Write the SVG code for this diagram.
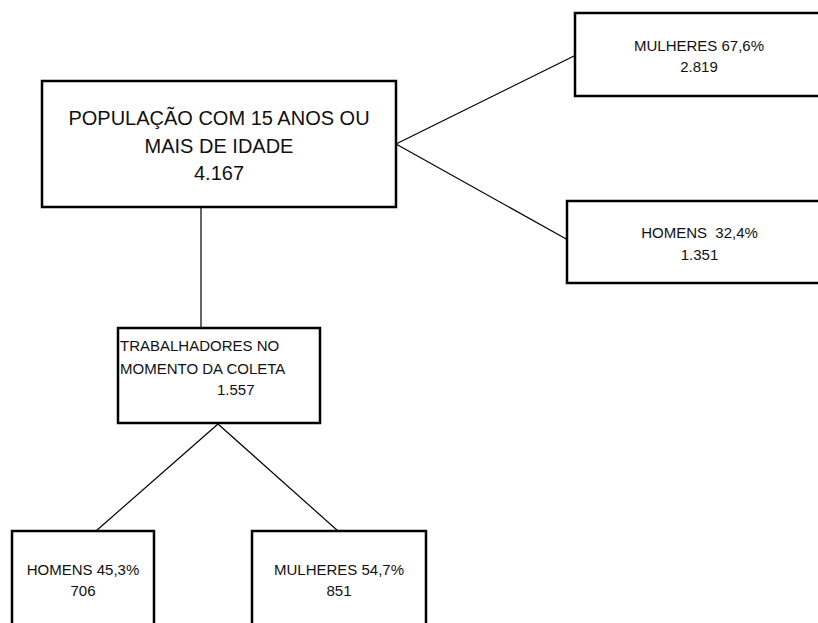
<svg xmlns="http://www.w3.org/2000/svg" width="818" height="623" viewBox="0 0 818 623">
<style>
.box{fill:#fff;stroke:#000;stroke-width:2.5}
.con{stroke:#000;stroke-width:1.2;fill:none}
.t{font-family:"Liberation Sans",Arial,sans-serif;fill:#111;font-size:15px}
.big{font-size:20px}
.c{text-anchor:middle}
</style>
<rect width="818" height="623" fill="#fff"/>
<g id="connectors">
<line class="con" x1="396" y1="144" x2="576" y2="55"/>
<line class="con" x1="396" y1="144" x2="568" y2="240"/>
<line class="con" x1="201" y1="207" x2="201" y2="328"/>
<line class="con" x1="218" y1="424" x2="96" y2="531"/>
<line class="con" x1="218" y1="424" x2="338" y2="531"/>
</g>
<g id="populacao">
<rect class="box" x="42" y="81" width="354" height="126"/>
<text class="t big c" x="219" y="124.5">POPULAÇÃO COM 15 ANOS OU</text>
<text class="t big c" x="219" y="152.5">MAIS DE IDADE</text>
<text class="t big c" x="219" y="180">4.167</text>
</g>
<g id="mulheres-total">
<rect class="box" x="575" y="13" width="260" height="83"/>
<text class="t c" x="699" y="51">MULHERES 67,6%</text>
<text class="t c" x="699" y="72">2.819</text>
</g>
<g id="homens-total">
<rect class="box" x="567" y="201" width="270" height="82"/>
<text class="t c" x="699.5" y="237.5" xml:space="preserve">HOMENS  32,4%</text>
<text class="t c" x="699.5" y="260">1.351</text>
</g>
<g id="trabalhadores">
<rect class="box" x="118" y="328" width="202" height="95"/>
<text class="t" x="120" y="351">TRABALHADORES NO</text>
<text class="t" x="120" y="374">MOMENTO DA COLETA</text>
<text class="t" x="217" y="395">1.557</text>
</g>
<g id="homens-trab">
<rect class="box" x="12" y="531" width="142" height="110"/>
<text class="t c" x="83" y="575">HOMENS 45,3%</text>
<text class="t c" x="83" y="596">706</text>
</g>
<g id="mulheres-trab">
<rect class="box" x="252" y="531" width="174" height="110"/>
<text class="t c" x="339" y="575">MULHERES 54,7%</text>
<text class="t c" x="339" y="596">851</text>
</g>
</svg>
